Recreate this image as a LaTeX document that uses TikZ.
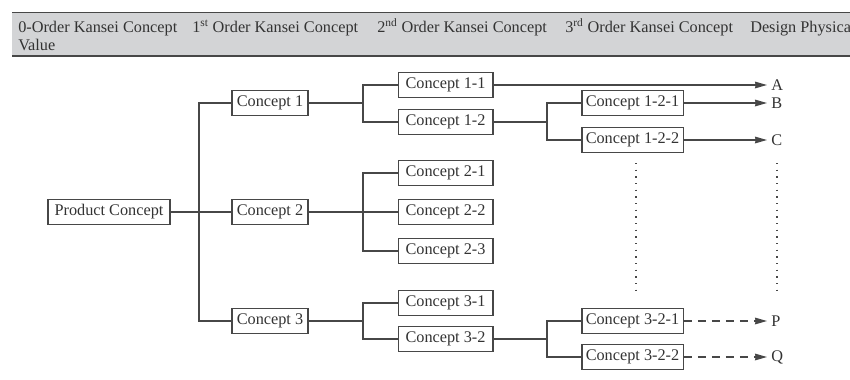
\documentclass[tikz,border=0pt]{standalone}
\usepackage{fontspec}
\setmainfont{Liberation Serif}
\usetikzlibrary{arrows.meta}
\definecolor{linec}{HTML}{474747}
\definecolor{textc}{HTML}{333333}
\definecolor{hdrfill}{HTML}{D3D4D6}
\begin{document}
\begin{tikzpicture}[x=0.75pt, y=-0.75pt, >={Stealth[length=9pt,width=5pt,inset=0.5pt]},
    every node/.style={font=\fontsize{12.2}{13.5}\selectfont, text=textc},
    cbox/.style={draw=linec, line width=1pt, inner xsep=2pt, inner ysep=0pt, minimum height=18.5pt, fill=white},
    lv1/.style={cbox, minimum width=57pt},
    lv2/.style={cbox, minimum width=71pt},
    lv3/.style={cbox, minimum width=76pt},
    hdr/.style={anchor=base west, inner sep=0pt},
    endlbl/.style={anchor=west, inner xsep=3pt, inner ysep=0pt},
    conn/.style={draw=linec, line width=1pt}]
    \useasboundingbox (0,0) rectangle (850,379);
    % header band
    \fill[hdrfill] (12,12) rectangle (850,56);
    \draw[linec, line width=0.6pt] (12,12) -- (850,12);
    \draw[linec, line width=1.4pt] (12,56) -- (850,56);
    \node[hdr, align=left] (h0) at (18,50) {0-Order Kansei Concept\\Value};
    \node[hdr] (h1) at (192,32) {1\textsuperscript{st} Order Kansei Concept};
    \node[hdr] (h2) at (377,32) {2\textsuperscript{nd} Order Kansei Concept};
    \node[hdr] (h3) at (565,32) {3\textsuperscript{rd} Order Kansei Concept};
    \node[hdr] (h4) at (750,32) {Design Physical};
    % tree
    \node[cbox, minimum width=91.5pt] (pc) at (109,212) {Product Concept};
    \node[lv1] (c1) at (270,103) {Concept 1};
    \node[lv1] (c2) at (270,212) {Concept 2};
    \node[lv1] (c3) at (270,321) {Concept 3};
    \node[lv2] (c11) at (445.5,85) {Concept 1-1};
    \node[lv2] (c12) at (445.5,122) {Concept 1-2};
    \node[lv2] (c21) at (445.5,173) {Concept 2-1};
    \node[lv2] (c22) at (445.5,212) {Concept 2-2};
    \node[lv2] (c23) at (445.5,251) {Concept 2-3};
    \node[lv2] (c31) at (445.5,303) {Concept 3-1};
    \node[lv2] (c32) at (445.5,339) {Concept 3-2};
    \node[lv3] (c121) at (632.5,103) {Concept 1-2-1};
    \node[lv3] (c122) at (632.5,140) {Concept 1-2-2};
    \node[lv3] (c321) at (632.5,321) {Concept 3-2-1};
    \node[lv3] (c322) at (632.5,357) {Concept 3-2-2};
    \node[endlbl] (a) at (767,85) {A};
    \node[endlbl] (b) at (767,103) {B};
    \node[endlbl] (c) at (767,140) {C};
    \node[endlbl] (p) at (767,321) {P};
    \node[endlbl] (q) at (767,357) {Q};
    \coordinate (j0) at (199,212);
    \coordinate (j1) at (363,103);
    \coordinate (j2) at (363,212);
    \coordinate (j3) at (363,321);
    \coordinate (j12) at (547,122);
    \coordinate (j32) at (547,339);
    \draw[conn] (pc) -- (j0);
    \draw[conn] (j0) |- (c1);
    \draw[conn] (j0) -- (c2);
    \draw[conn] (j0) |- (c3);
    \draw[conn] (c1) -- (j1);
    \draw[conn] (j1) |- (c11);
    \draw[conn] (j1) |- (c12);
    \draw[conn] (c2) -- (j2);
    \draw[conn] (j2) |- (c21);
    \draw[conn] (j2) -- (c22);
    \draw[conn] (j2) |- (c23);
    \draw[conn] (c3) -- (j3);
    \draw[conn] (j3) |- (c31);
    \draw[conn] (j3) |- (c32);
    \draw[conn] (c12) -- (j12);
    \draw[conn] (j12) |- (c121);
    \draw[conn] (j12) |- (c122);
    \draw[conn] (c32) -- (j32);
    \draw[conn] (j32) |- (c321);
    \draw[conn] (j32) |- (c322);
    \draw[conn, ->] (c11) -- (a);
    \draw[conn, ->] (c121) -- (b);
    \draw[conn, ->] (c122) -- (c);
    \draw[conn, ->, dash pattern=on 6pt off 4.5pt] (c321) -- (p);
    \draw[conn, ->, dash pattern=on 6pt off 4.5pt] (c322) -- (q);
    % dotted continuation
    \coordinate (d1) at (636,163);
    \coordinate (d2) at (636,292);
    \coordinate (d3) at (777,163);
    \coordinate (d4) at (777,292);
    \draw[linec, line width=1pt, dash pattern=on 1pt off 4pt] (d1) -- (d2);
    \draw[linec, line width=1pt, dash pattern=on 1pt off 4pt] (d3) -- (d4);
\end{tikzpicture}
\end{document}
